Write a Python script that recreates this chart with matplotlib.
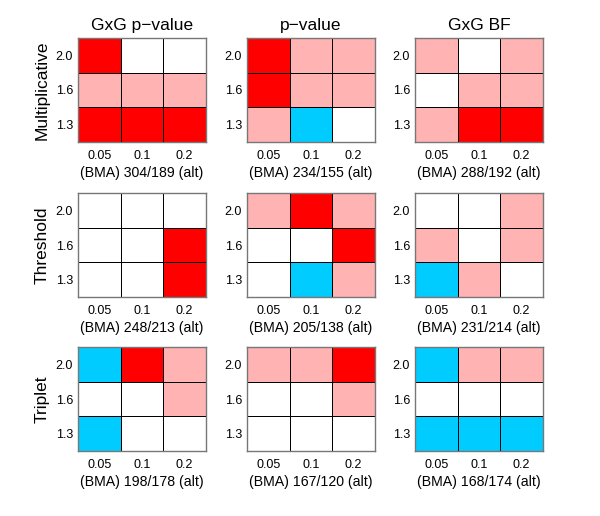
import matplotlib
matplotlib.use('Agg')
import matplotlib.pyplot as plt
from matplotlib.colors import ListedColormap, BoundaryNorm
import numpy as np

plt.rcParams['font.family'] = ['Liberation Sans', 'DejaVu Sans']

# Data: codes -1 = cyan, 0 = white, 1 = pink, 2 = red
# rows top->bottom: 2.0, 1.6, 1.3 ; cols: 0.05, 0.1, 0.2
col_titles = ['GxG p\u2212value', 'p\u2212value', 'GxG BF']
row_titles = ['Multiplicative', 'Threshold', 'Triplet']
x_ticks = ['0.05', '0.1', '0.2']
y_ticks = ['2.0', '1.6', '1.3']

multiplicative = [
    [[2, 0, 0], [1, 1, 1], [2, 2, 2]],
    [[2, 1, 1], [2, 1, 1], [1, -1, 0]],
    [[1, 0, 1], [0, 1, 1], [1, 2, 2]],
]
threshold = [
    [[0, 0, 0], [0, 0, 2], [0, 0, 2]],
    [[1, 2, 1], [0, 0, 2], [0, -1, 1]],
    [[0, 0, 1], [1, 0, 1], [-1, 1, 0]],
]
triplet = [
    [[-1, 2, 1], [0, 0, 1], [-1, 0, 0]],
    [[1, 1, 2], [0, 0, 1], [0, 0, 0]],
    [[-1, 1, 1], [0, 0, 0], [-1, -1, -1]],
]
counts = [
    ['304/189', '234/155', '288/192'],
    ['248/213', '205/138', '231/214'],
    ['198/178', '167/120', '168/174'],
]
grids = [multiplicative, threshold, triplet]

cmap = ListedColormap(['#00CCFF', '#FFFFFF', '#FFB3B3', '#FF0000'])
norm = BoundaryNorm([-1.5, -0.5, 0.5, 1.5, 2.5], cmap.N)

W, H = 600, 516
fig = plt.figure(figsize=(6, 5.16), dpi=100)

lefts = [78, 247, 415]
tops = [38, 193, 347]
aw, ah = 128, 104

for r in range(3):
    for c in range(3):
        ax = fig.add_axes([lefts[c] / W, 1 - (tops[r] + ah) / H, aw / W, ah / H])
        z = np.array(grids[r][c])[::-1]
        ax.pcolormesh(z, cmap=cmap, norm=norm, edgecolors='black', linewidth=0.6)
        ax.set_xlim(0, 3)
        ax.set_ylim(0, 3)
        ax.set_xticks(np.arange(3) + 0.5)
        ax.set_xticklabels(x_ticks, fontsize=9)
        ax.set_yticks(np.arange(3) + 0.5)
        ax.set_yticklabels(y_ticks[::-1], fontsize=9)
        ax.tick_params(length=0, pad=3.5)
        ax.tick_params(axis='x', pad=6)
        ax.set_xlabel('(BMA) ' + counts[r][c] + ' (alt)', fontsize=10.2, labelpad=2.5)
        for s in ax.spines.values():
            s.set_color('#777777')
            s.set_linewidth(1.0)
        if r == 0:
            ax.set_title(col_titles[c], fontsize=12.5, pad=6)
    fig.text(42 / W, 1 - (tops[r] + ah / 2) / H, row_titles[r], rotation=90,
             fontsize=12.5, ha='center', va='center')

fig.savefig('out.png', dpi=100)
